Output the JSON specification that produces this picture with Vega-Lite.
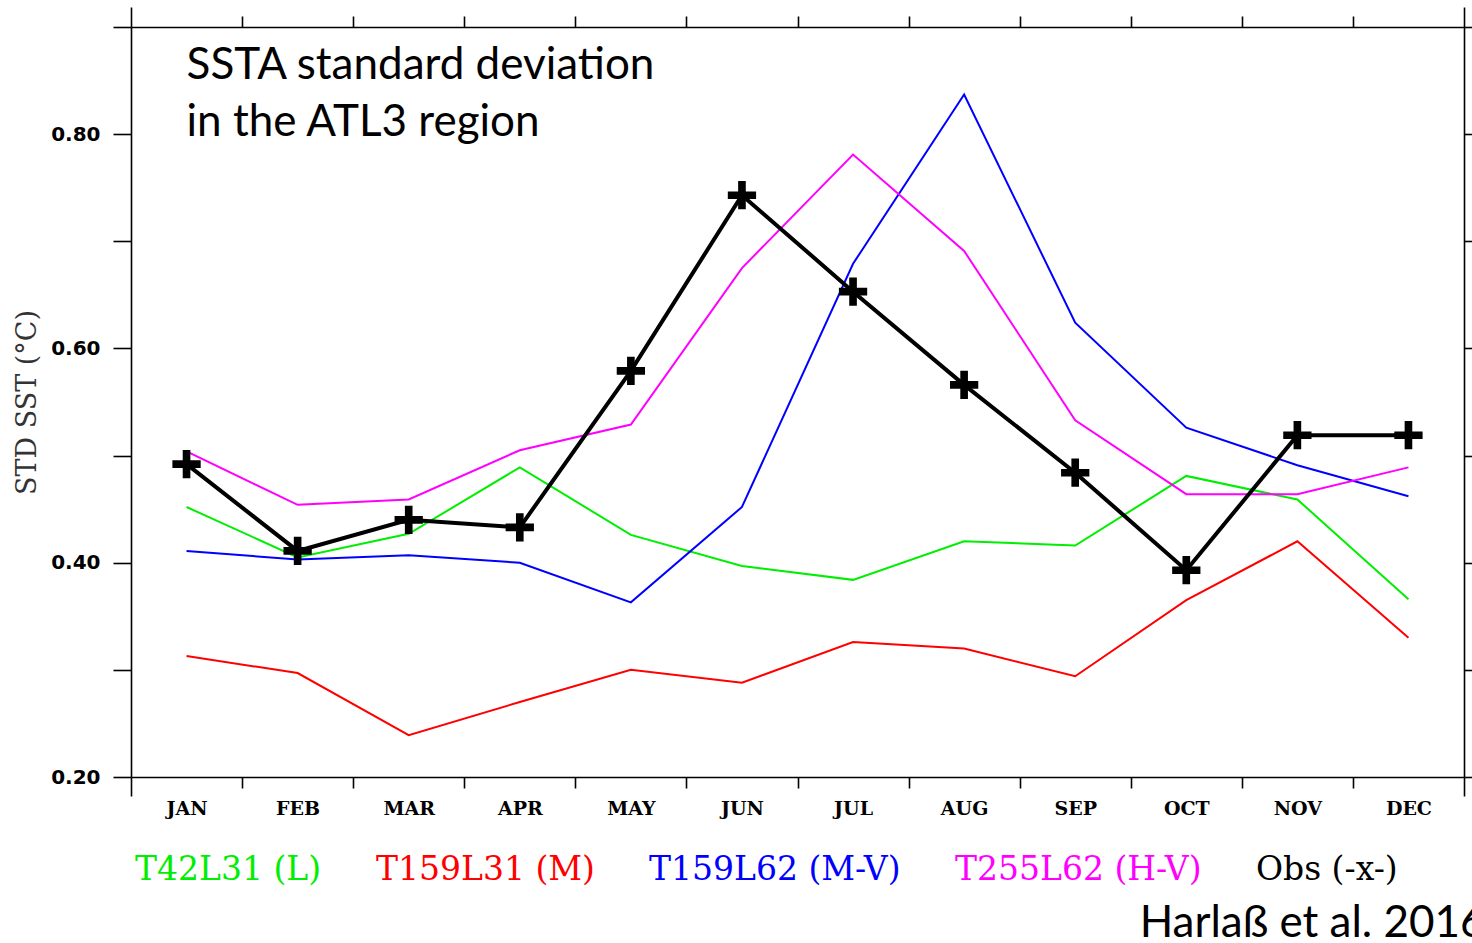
{
  "$schema": "https://vega.github.io/schema/vega-lite/v6.json",
  "width": 1333,
  "height": 750,
  "autosize": {"type": "none"},
  "padding": {"left": 131, "top": 27, "right": 8, "bottom": 166},
  "background": "white",
  "config": {
    "view": {"stroke": null},
    "axis": {
      "grid": false,
      "domainColor": "#000000",
      "domainWidth": 1.6,
      "tickColor": "#000000",
      "tickWidth": 1.6,
      "labelFlush": false,
      "labelOverlap": false,
      "labelColor": "#000000"
    }
  },
  "datasets": {
    "std": [
      {"month": 1, "series": "T42L31 (L)", "value": 0.452},
      {"month": 2, "series": "T42L31 (L)", "value": 0.405},
      {"month": 3, "series": "T42L31 (L)", "value": 0.427},
      {"month": 4, "series": "T42L31 (L)", "value": 0.489},
      {"month": 5, "series": "T42L31 (L)", "value": 0.426},
      {"month": 6, "series": "T42L31 (L)", "value": 0.397},
      {"month": 7, "series": "T42L31 (L)", "value": 0.384},
      {"month": 8, "series": "T42L31 (L)", "value": 0.420},
      {"month": 9, "series": "T42L31 (L)", "value": 0.416},
      {"month": 10, "series": "T42L31 (L)", "value": 0.481},
      {"month": 11, "series": "T42L31 (L)", "value": 0.459},
      {"month": 12, "series": "T42L31 (L)", "value": 0.366},
      {"month": 1, "series": "T159L31 (M)", "value": 0.313},
      {"month": 2, "series": "T159L31 (M)", "value": 0.297},
      {"month": 3, "series": "T159L31 (M)", "value": 0.239},
      {"month": 4, "series": "T159L31 (M)", "value": 0.270},
      {"month": 5, "series": "T159L31 (M)", "value": 0.300},
      {"month": 6, "series": "T159L31 (M)", "value": 0.288},
      {"month": 7, "series": "T159L31 (M)", "value": 0.326},
      {"month": 8, "series": "T159L31 (M)", "value": 0.320},
      {"month": 9, "series": "T159L31 (M)", "value": 0.294},
      {"month": 10, "series": "T159L31 (M)", "value": 0.365},
      {"month": 11, "series": "T159L31 (M)", "value": 0.420},
      {"month": 12, "series": "T159L31 (M)", "value": 0.330},
      {"month": 1, "series": "T159L62 (M-V)", "value": 0.411},
      {"month": 2, "series": "T159L62 (M-V)", "value": 0.403},
      {"month": 3, "series": "T159L62 (M-V)", "value": 0.407},
      {"month": 4, "series": "T159L62 (M-V)", "value": 0.400},
      {"month": 5, "series": "T159L62 (M-V)", "value": 0.363},
      {"month": 6, "series": "T159L62 (M-V)", "value": 0.452},
      {"month": 7, "series": "T159L62 (M-V)", "value": 0.679},
      {"month": 8, "series": "T159L62 (M-V)", "value": 0.837},
      {"month": 9, "series": "T159L62 (M-V)", "value": 0.624},
      {"month": 10, "series": "T159L62 (M-V)", "value": 0.526},
      {"month": 11, "series": "T159L62 (M-V)", "value": 0.491},
      {"month": 12, "series": "T159L62 (M-V)", "value": 0.462},
      {"month": 1, "series": "T255L62 (H-V)", "value": 0.504},
      {"month": 2, "series": "T255L62 (H-V)", "value": 0.454},
      {"month": 3, "series": "T255L62 (H-V)", "value": 0.459},
      {"month": 4, "series": "T255L62 (H-V)", "value": 0.505},
      {"month": 5, "series": "T255L62 (H-V)", "value": 0.529},
      {"month": 6, "series": "T255L62 (H-V)", "value": 0.675},
      {"month": 7, "series": "T255L62 (H-V)", "value": 0.781},
      {"month": 8, "series": "T255L62 (H-V)", "value": 0.691},
      {"month": 9, "series": "T255L62 (H-V)", "value": 0.533},
      {"month": 10, "series": "T255L62 (H-V)", "value": 0.464},
      {"month": 11, "series": "T255L62 (H-V)", "value": 0.464},
      {"month": 12, "series": "T255L62 (H-V)", "value": 0.489},
      {"month": 1, "series": "Obs (-x-)", "value": 0.492},
      {"month": 2, "series": "Obs (-x-)", "value": 0.411},
      {"month": 3, "series": "Obs (-x-)", "value": 0.440},
      {"month": 4, "series": "Obs (-x-)", "value": 0.433},
      {"month": 5, "series": "Obs (-x-)", "value": 0.579},
      {"month": 6, "series": "Obs (-x-)", "value": 0.743},
      {"month": 7, "series": "Obs (-x-)", "value": 0.653},
      {"month": 8, "series": "Obs (-x-)", "value": 0.566},
      {"month": 9, "series": "Obs (-x-)", "value": 0.484},
      {"month": 10, "series": "Obs (-x-)", "value": 0.393},
      {"month": 11, "series": "Obs (-x-)", "value": 0.519},
      {"month": 12, "series": "Obs (-x-)", "value": 0.519}
    ]
  },
  "layer": [
    {
      "data": {"name": "std"},
      "mark": {"type": "line"},
      "encoding": {
        "x": {
          "field": "month",
          "type": "quantitative",
          "scale": {"domain": [0.5, 12.5], "nice": false, "zero": false},
          "axis": {
            "orient": "bottom",
            "title": null,
            "values": [0.5, 1, 1.5, 2, 2.5, 3, 3.5, 4, 4.5, 5, 5.5, 6, 6.5, 7, 7.5, 8, 8.5, 9, 9.5, 10, 10.5, 11, 11.5, 12, 12.5],
            "labelExpr": "datum.value % 1 == 0 ? ['JAN','FEB','MAR','APR','MAY','JUN','JUL','AUG','SEP','OCT','NOV','DEC'][datum.value - 1] : ''",
            "tickOpacity": {"condition": {"test": "datum.value % 1 == 0", "value": 0}, "value": 1},
            "tickSize": {"condition": {"test": "datum.value < 1 || datum.value > 12", "value": 19}, "value": 11},
            "labelFont": "DejaVu Serif",
            "labelFontWeight": "bold",
            "labelFontSize": 19,
            "labelPadding": 11
          }
        },
        "y": {
          "field": "value",
          "type": "quantitative",
          "scale": {"domain": [0.2, 0.9], "nice": false, "zero": false},
          "axis": {
            "orient": "left",
            "values": [0.2, 0.3, 0.4, 0.5, 0.6, 0.7, 0.8, 0.9],
            "labelExpr": "(round(datum.value * 10) % 2 == 0 && datum.value < 0.85) ? format(datum.value, '.2f') : ''",
            "tickSize": 18,
            "labelPadding": 13,
            "labelFont": "DejaVu Sans",
            "labelFontWeight": "bold",
            "labelFontSize": 20,
            "title": "STD SST (°C)",
            "titleFont": "DejaVu Serif",
            "titleFontSize": 27,
            "titleFontWeight": "normal",
            "titleColor": "#333333",
            "titlePadding": 9
          }
        },
        "color": {
          "field": "series",
          "type": "nominal",
          "scale": {
            "domain": ["T42L31 (L)", "T159L31 (M)", "T159L62 (M-V)", "T255L62 (H-V)", "Obs (-x-)"],
            "range": ["#00ee00", "#ff0000", "#0000ff", "#ff00ff", "#000000"]
          },
          "legend": {
            "orient": "none",
            "legendX": -29,
            "legendY": 826,
            "direction": "horizontal",
            "columns": 5,
            "title": null,
            "padding": 0,
            "labelFont": "DejaVu Serif",
            "labelFontSize": 33,
            "labelOffset": 0,
            "labelLimit": 600,
            "symbolSize": 0,
            "symbolOpacity": 0,
            "symbolStrokeWidth": 0,
            "columnPadding": 21,
            "encode": {
              "labels": {"update": {"fill": {"signal": "scale('color', datum.value)"}}}
            }
          }
        },
        "strokeWidth": {"condition": {"test": "datum.series === 'Obs (-x-)'", "value": 4}, "value": 2}
      }
    },
    {
      "data": {"name": "std"},
      "transform": [{"filter": "datum.series === 'Obs (-x-)'"}],
      "mark": {
        "type": "point",
        "shape": "M-0.27,-1H0.27V-0.27H1V0.27H0.27V1H-0.27V0.27H-1V-0.27H-0.27Z",
        "filled": true,
        "color": "#000000",
        "opacity": 1,
        "size": 800,
        "strokeWidth": 0
      },
      "encoding": {
        "x": {
          "field": "month",
          "type": "quantitative",
          "axis": {
            "orient": "top",
            "title": null,
            "labels": false,
            "values": [0.5, 1.5, 2.5, 3.5, 4.5, 5.5, 6.5, 7.5, 8.5, 9.5, 10.5, 11.5, 12.5],
            "tickSize": {"condition": {"test": "datum.value < 1 || datum.value > 12", "value": 20}, "value": 11}
          }
        },
        "y": {
          "field": "value",
          "type": "quantitative",
          "axis": {
            "orient": "right",
            "title": null,
            "labels": false,
            "values": [0.2, 0.3, 0.4, 0.5, 0.6, 0.7, 0.8, 0.9],
            "tickSize": 18
          }
        }
      }
    },
    {
      "data": {"values": [{}]},
      "mark": {
        "type": "text",
        "align": "left",
        "baseline": "alphabetic",
        "font": "Lato",
        "fontSize": 44,
        "lineHeight": 57,
        "color": "#000000"
      },
      "encoding": {
        "x": {"datum": 1.0, "type": "quantitative", "axis": null},
        "y": {"datum": 0.8515, "type": "quantitative", "axis": null},
        "text": {"value": ["SSTA standard deviation", "in the ATL3 region"]}
      }
    },
    {
      "data": {"values": [{}]},
      "mark": {
        "type": "text",
        "align": "left",
        "baseline": "alphabetic",
        "font": "Lato",
        "fontSize": 44,
        "color": "#000000",
        "clip": false
      },
      "encoding": {
        "x": {"datum": 9.58, "type": "quantitative", "axis": null},
        "y": {"datum": 0.0505, "type": "quantitative", "axis": null},
        "text": {"value": "Harlaß et al. 2016"}
      }
    }
  ],
  "resolve": {"axis": {"x": "independent", "y": "independent"}}
}
